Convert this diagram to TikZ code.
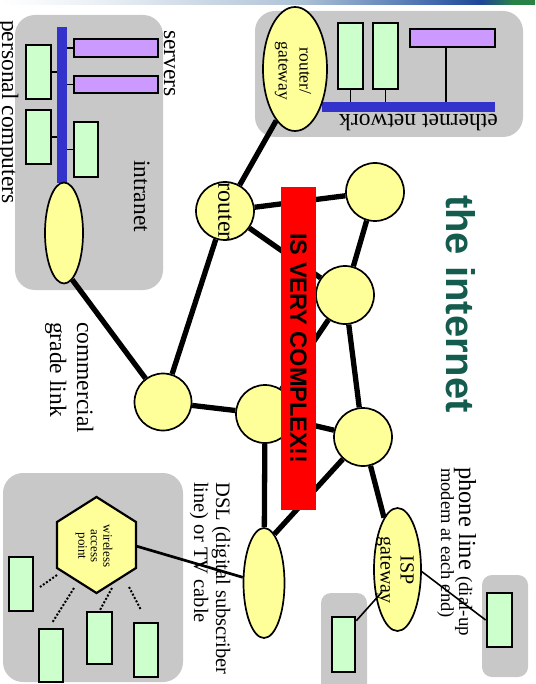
\documentclass[tikz,border=0pt]{standalone}
\usepackage{fontspec}
\setmainfont{Liberation Serif}
\newfontfamily\boldsans{Liberation Sans}
\usetikzlibrary{calc,shapes.geometric}

\definecolor{boxgray}{RGB}{200,200,200}
\definecolor{nodeyellow}{RGB}{255,255,153}
\definecolor{pcgreen}{RGB}{204,255,204}
\definecolor{srvpurple}{RGB}{204,153,255}
\definecolor{netblue}{RGB}{51,51,204}
\definecolor{titlegreen}{RGB}{20,92,78}
\definecolor{bandW}{RGB}{235,240,245}
\definecolor{bandA}{RGB}{175,195,215}
\definecolor{bandB}{RGB}{70,110,175}
\definecolor{bandC}{RGB}{30,70,150}
\definecolor{bandD}{RGB}{40,130,70}

\pgfdeclarehorizontalshading{topband}{100bp}{color(0bp)=(white); color(25bp)=(white); color(34bp)=(bandW); color(53bp)=(bandA); color(65bp)=(bandB); color(70bp)=(bandC); color(73bp)=(bandD); color(100bp)=(bandD)}

\newcommand\fsA{\fontsize{23.5}{27}\selectfont}
\newcommand\fsDSL{\fontsize{20.5}{22}\selectfont}
\newcommand\fsRG{\fontsize{17.5}{21}\selectfont}
\newcommand\fsISP{\fontsize{20}{20}\selectfont}
\newcommand\fsWL{\fontsize{13}{12.5}\selectfont}
\newcommand\fsPh{\fontsize{18.5}{20}\selectfont}
\newcommand\fsPhSm{\fontsize{19}{20}\selectfont}
\newcommand\fsPhBig{\fontsize{24.5}{26}\selectfont}
\newcommand\fsTitle{\boldsans\bfseries\fontsize{40}{44}\selectfont}
\newcommand\fsRed{\boldsans\bfseries\fontsize{23.5}{27}\selectfont}
\newcommand\fsRouter{\fontsize{24}{26}\selectfont}

\begin{document}
\begin{tikzpicture}[x=1pt,y=-1pt,
  gbox/.style={fill=boxgray, rounded corners=20pt, inner sep=0pt},
  sbox/.style={fill=boxgray, rounded corners=10pt, inner sep=0pt},
  pc/.style={draw=black, line width=2.7pt, fill=pcgreen, inner sep=0pt},
  srv/.style={draw=black, line width=2.7pt, fill=srvpurple, inner sep=0pt},
  bus/.style={fill=netblue, inner sep=0pt},
  hub/.style={circle, draw=black, line width=1.7pt, fill=nodeyellow, minimum size=58pt, inner sep=0pt},
  gw/.style={ellipse, draw=black, line width=1.7pt, fill=nodeyellow, inner sep=0pt},
  edge/.style={line width=5.3pt, black},
  thinline/.style={line width=1.6pt, black},
  wireline/.style={line width=2.7pt, black},
  radio/.style={line width=2pt, black, dash pattern=on 2pt off 1.8pt},
  vtext/.style={rotate=-90, anchor=base west, inner sep=0pt}
]
\useasboundingbox (0,0) rectangle (535,684);
\shade[shading=topband] (0,0) rectangle (535,5);

% ---------- intranet ----------
\node[gbox, minimum width=148pt, minimum height=275pt] (intra) at (89,152.5) {};
\node[bus, minimum width=10pt, minimum height=156pt] (ibus) at (62,105) {};
\node[srv, minimum width=84pt, minimum height=18pt] (s1) at (116,48) {};
\node[srv, minimum width=84pt, minimum height=17pt] (s2) at (116,84.5) {};
\node[pc, minimum width=25pt, minimum height=54pt] (p1) at (38.5,72) {};
\node[pc, minimum width=25pt, minimum height=54pt] (p2) at (38.5,137) {};
\node[pc, minimum width=24pt, minimum height=55pt] (p3) at (86,149.5) {};
\draw[thinline] (s1.west) -- (s1.west -| ibus.east);
\draw[thinline] (s2.west) -- (s2.west -| ibus.east);
\draw[thinline] (p1.east) -- (p1.east -| ibus.west);
\draw[thinline] (p2.east) -- (p2.east -| ibus.west);
\draw[thinline] (p3.west) -- (p3.west -| ibus.east);
\node[gw, minimum width=38pt, minimum height=101pt] (ie) at (64,233) {};
\node[vtext, font=\fsA] (tserv) at (164,30) {servers};
\node[vtext, font=\fsA] (tintra) at (134,160) {intranet};
\node[vtext, font=\fsA] (tpers) at (2,20) {personal computers};

% ---------- ethernet ----------
\node[gbox, minimum width=268pt, minimum height=126pt] (ether) at (389,74) {};
\node[bus, minimum width=173pt, minimum height=10pt] (ebus) at (408.5,107) {};
\node[pc, minimum width=25pt, minimum height=66pt] (e1) at (350.5,56) {};
\node[pc, minimum width=25pt, minimum height=66pt] (e2) at (385.5,56) {};
\node[srv, minimum width=85pt, minimum height=18pt] (es) at (452.5,38) {};
\draw[thinline] (e1.south) -- (e1.south |- ebus.north);
\draw[thinline] (e2.south) -- (e2.south |- ebus.north);
\coordinate (esdrop) at ($(es.south)+(-6.5,0)$);
\draw[thinline] (esdrop) -- (esdrop |- ebus.north);
\node[rotate=180, font=\fsA, inner sep=0pt] (teth) at (418.5,123) {ethernet network};

% ---------- wireless ----------
\node[gbox, minimum width=180pt, minimum height=209pt] (wbox) at (93,577.5) {};
\node[pc, minimum width=24pt, minimum height=54pt] (wa) at (21,584) {};
\node[pc, minimum width=24pt, minimum height=53pt] (wb) at (51,655.5) {};
\node[pc, minimum width=25pt, minimum height=52pt] (wc) at (99.5,638) {};
\node[pc, minimum width=24pt, minimum height=54pt] (wd) at (146,650) {};
\draw[line width=2.2pt, fill=nodeyellow, line join=miter]
  (96.5,497) -- (136,522) -- (136,568) -- (96.5,593) -- (57,568) -- (57,522) -- cycle;
\coordinate (hexE) at (136,546);
\node[rotate=-90, align=center, font=\fsWL, inner sep=0pt] (twl) at (94,546) {wireless\\access\\point};
\coordinate (ra1) at (57,575);  \coordinate (ra2) at (40,587);
\coordinate (rb1) at (74,588);  \coordinate (rb2) at (52,623);
\coordinate (rc1) at (112,588); \coordinate (rc2) at (100,610);
\coordinate (rd1) at (129,587); \coordinate (rd2) at (141,610);
\draw[radio] (ra1) -- (ra2);
\draw[radio] (rb1) -- (rb2);
\draw[radio] (rc1) -- (rc2);
\draw[radio] (rd1) -- (rd2);

% ---------- dial-up side ----------
\node[sbox, minimum width=46pt, minimum height=102pt] (pbr) at (505,626) {};
\node[pc, minimum width=25pt, minimum height=54pt] (ppr) at (499.5,620) {};
\node[sbox, minimum width=46pt, minimum height=107pt] (pbl) at (344,646.5) {};
\node[pc, minimum width=23pt, minimum height=55pt] (ppl) at (343.5,644.5) {};

% ---------- core nodes ----------
\node[gw, minimum width=64pt, minimum height=124pt] (rg) at (295,69) {};
\node[hub] (R) at (225,211) {};
\node[hub] (N1) at (375,192) {};
\node[hub] (N2) at (345,295) {};
\node[hub] (N3) at (363,437) {};
\node[hub] (N4) at (265,414) {};
\node[hub, minimum size=57pt] (N5) at (163,402) {};
\node[gw, minimum width=41pt, minimum height=110pt] (dsl) at (264,583) {};
\node[gw, minimum width=47pt, minimum height=123pt] (isp) at (397.5,569.5) {};

\draw[edge] (rg.-110) -- (R);
\draw[edge] (R) -- (N1);
\draw[edge] (R) -- (N2);
\draw[edge] (R) -- (N5);
\draw[edge] (N1) -- (N2);
\draw[edge] (N2) -- (N4);
\draw[edge] (N2) -- (N3);
\draw[edge] (N5) -- (N4);
\draw[edge] (N4) -- (N3);
\draw[edge] (N4) -- (dsl);
\draw[edge] (N3) -- (dsl.78);
\draw[edge] (N3) -- (isp);
\draw[edge] (ie.-80) -- (N5);

\node[rotate=-90, align=center, font=\fsRG, inner sep=0pt] (trg) at (293,71) {router/\\gateway};
\node[rotate=-90, font=\fsRouter, inner sep=0pt] (trouter) at (R) {router};
\node[rotate=-90, align=center, font=\fsISP, inner sep=0pt] (tisp) at (395,570) {ISP\\gateway};

% thin links
\draw[thinline] (isp.-5) -- (ppr.west);
\coordinate (ispin) at (382,592);
\draw[thinline] (ispin) -- ($(ppl.north east)+(0,5)$);
\draw[wireline] (hexE) -- (dsl.165);

% ---------- red banner ----------
\node[fill=red, minimum width=35pt, minimum height=323pt, inner sep=0pt] (cx) at (298.5,348.5) {};
\node[rotate=-90, font=\fsRed, inner sep=0pt] (tcx) at (cx) {IS VERY COMPLEX!!};

% ---------- labels ----------
\node[vtext, font=\fsTitle, text=titlegreen] (ttitle) at (446,195) {the internet};
\node[vtext, font=\fsA] (tcom1) at (77,322) {commercial};
\node[vtext, font=\fsA] (tcom2) at (50,322) {grade link};
\node[vtext, font=\fsDSL] (tdsl1) at (216,482) {DSL (digital subscriber};
\node[vtext, font=\fsDSL] (tdsl2) at (194,482) {line) or TV cable};
\node[vtext, font=\fsPhBig] (tph1) at (459,467) {phone line {\fsPhSm(dial-up}};
\node[vtext, font=\fsPh] (tph2) at (441,468) {modem at each end)};
\end{tikzpicture}
\end{document}
